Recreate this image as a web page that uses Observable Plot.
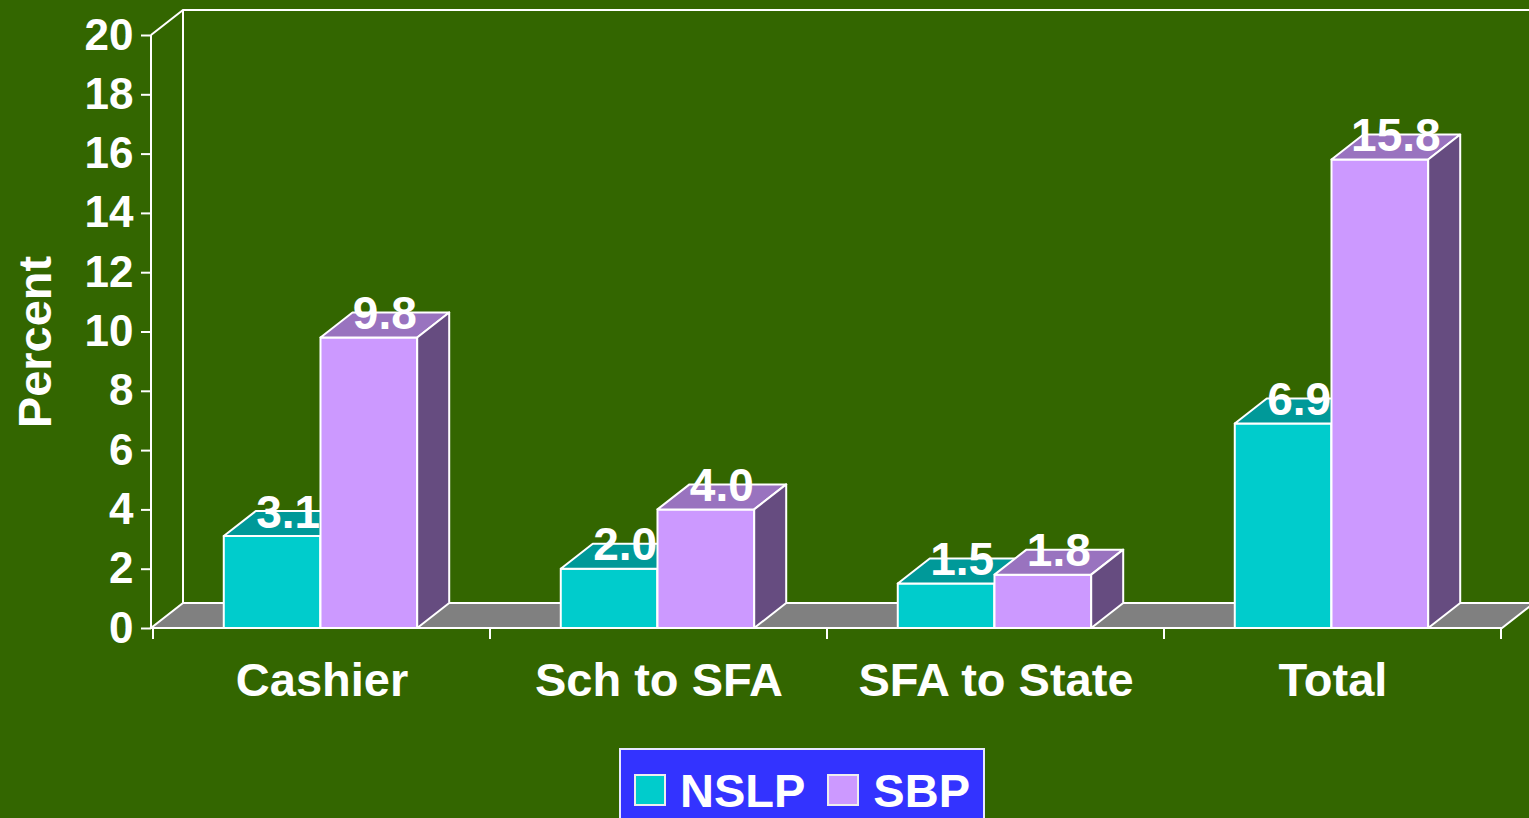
<!DOCTYPE html>
<html><head><meta charset="utf-8">
<script src="https://cdn.jsdelivr.net/npm/d3@7"></script>
<script src="https://cdn.jsdelivr.net/npm/@observablehq/plot@0.6"></script>
<style>
html,body{margin:0;padding:0;background:#336600;overflow:hidden;width:1529px;height:818px;}
#chart svg{display:block;}
#legend{margin-left:619px;margin-top:3px;width:362px;height:80px;background:#3333FF;border:2px solid #e8e8ff;border-bottom:none;display:flex;align-items:center;font-family:"Liberation Sans",Arial,sans-serif;font-weight:bold;font-size:47px;color:white;box-sizing:content-box;}
.item{display:flex;align-items:center;}
.sw{width:28px;height:28px;border:2px solid #eee;display:inline-block;}
</style></head>
<body>
<div id="chart"></div>
<div id="legend"></div>
<script>
const categories = ["Cashier", "Sch to SFA", "SFA to State", "Total"];
const seriesNames = ["NSLP", "SBP"];
const nslpValues = [3.1, 2.0, 1.5, 6.9];
const sbpValues = [9.8, 4.0, 1.8, 15.8];
const yTicks = [0, 2, 4, 6, 8, 10, 12, 14, 16, 18, 20];
const yLabel = "Percent";

const palette = {
  NSLP: {front: "#00CCCC", top: "#009999", side: "#006666"},
  SBP: {front: "#CC99FF", top: "#9973BF", side: "#664C80"}
};

const data = categories.flatMap((c, i) => [
  {category: c, series: "NSLP", value: nslpValues[i]},
  {category: c, series: "SBP", value: sbpValues[i]}
]);

const DX = 32, DY = 25;            // 3-D depth offset (pixels)
const BAR_OFFSET = 0.21, BAR_W = 0.287; // fractions of band width
const FONT = "'Liberation Sans', Arial, sans-serif";

function bandwidthOf(x) {
  if (typeof x.bandwidth === "function") return x.bandwidth();
  const d = x.domain();
  return x(d[1]) - x(d[0]);
}

function wallsMark(index, scales, values, dims) {
  const {x, y} = scales;
  const xl = dims.marginLeft, xr = dims.width - dims.marginRight;
  const y0 = y(0), yTop = y(yTicks[yTicks.length - 1]);
  const g = d3.create("svg:g").attr("fill", "none").attr("stroke", "white").attr("stroke-width", 2);
  g.append("path").attr("d", `M${xl},${yTop}L${xl + DX},${yTop - DY}L${xr + DX},${yTop - DY}M${xl + DX},${yTop - DY}L${xl + DX},${y0 - DY}`);
  g.append("path").attr("fill", "#808080")
    .attr("d", `M${xl},${y0}L${xr},${y0}L${xr + DX},${y0 - DY}L${xl + DX},${y0 - DY}Z`);
  g.append("path").attr("d", `M${xl},${y0}L${xl},${yTop}`);
  const bounds = categories.map(c => x(c)).concat([x(categories[categories.length - 1]) + bandwidthOf(x)]);
  for (const b of bounds) g.append("path").attr("d", `M${b},${y0}L${b},${y0 + 11}`);
  return g.node();
}

function barsMark(index, scales, values, dims) {
  const {x, y} = scales;
  const bw = bandwidthOf(x);
  const y0 = y(0);
  const g = d3.create("svg:g");
  for (const d of data) {
    const j = seriesNames.indexOf(d.series);
    const x0 = x(d.category) + bw * BAR_OFFSET + j * bw * BAR_W;
    const x1 = x0 + bw * BAR_W;
    const yv = y(d.value);
    const col = palette[d.series];
    const b = g.append("g").attr("stroke", "white").attr("stroke-width", 2).attr("stroke-linejoin", "round");
    b.append("path").attr("fill", col.front).attr("d", `M${x0},${yv}L${x1},${yv}L${x1},${y0}L${x0},${y0}Z`);
    b.append("path").attr("fill", col.top).attr("d", `M${x0},${yv}L${x1},${yv}L${x1 + DX},${yv - DY}L${x0 + DX},${yv - DY}Z`);
    b.append("path").attr("fill", col.side).attr("d", `M${x1},${yv}L${x1 + DX},${yv - DY}L${x1 + DX},${y0 - DY}L${x1},${y0}Z`);
    g.append("text")
      .attr("x", (x0 + x1) / 2 + DX / 2)
      .attr("y", yv - DY)
      .attr("dy", "0.36em")
      .attr("text-anchor", "middle")
      .attr("fill", "white")
      .attr("font-family", FONT)
      .attr("font-weight", "bold")
      .attr("font-size", 46)
      .text(d.value.toFixed(1));
  }
  return g.node();
}

const chart = Plot.plot({
  width: 1529,
  height: 745,
  marginLeft: 151,
  marginRight: 27,
  marginTop: 35,
  marginBottom: 117,
  style: {background: "transparent", color: "white", fontFamily: FONT, overflow: "visible"},
  x: {type: "band", domain: categories, padding: 0, axis: null},
  y: {domain: [0, 20], axis: null},
  marks: [
    wallsMark,
    Plot.axisY({ticks: yTicks, tickSize: 10, tickPadding: 8, fontSize: 44, fontWeight: "bold", label: null, stroke: "white", strokeWidth: 2, fill: "white"}),
    barsMark,
    Plot.text(categories, {x: d => d, frameAnchor: "bottom", dy: 67, fontSize: 47, fontWeight: "bold", fill: "white"}),
    Plot.text([yLabel], {frameAnchor: "left", textAnchor: "middle", dx: -116, dy: 10, rotate: -90, fontSize: 47, fontWeight: "bold", fill: "white"})
  ]
});
document.getElementById("chart").append(chart);

const legend = d3.select("#legend");
seriesNames.forEach((s, i) => {
  const it = legend.append("div").attr("class", "item").style("margin-left", i === 0 ? "13px" : "22px");
  it.append("span").attr("class", "sw").style("background", palette[s].front);
  it.append("span").style("margin-left", "14px").text(s);
});
</script>
</body></html>
